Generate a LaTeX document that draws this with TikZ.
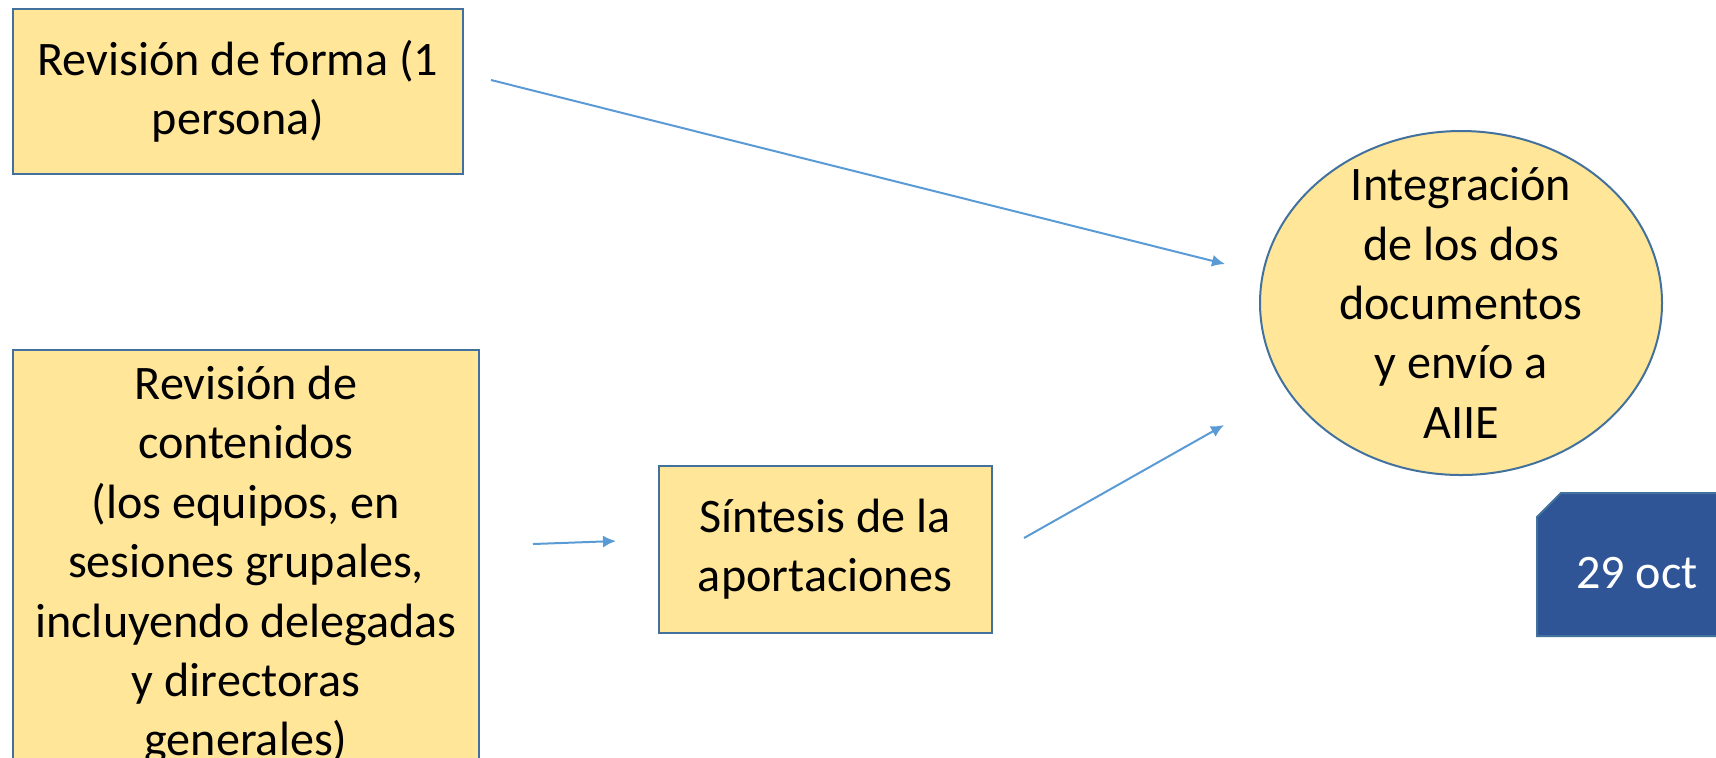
\documentclass[tikz,border=0pt]{standalone}
\usepackage{fontspec}
\setmainfont{Carlito}
\usetikzlibrary{shapes, arrows.meta, positioning}
\definecolor{amarillo}{HTML}{FFE699}
\definecolor{bordeazul}{HTML}{41719C}
\definecolor{azulflecha}{HTML}{5B9BD5}
\definecolor{azuloscuro}{HTML}{2F5597}
\newcommand{\texto}{\fontsize{13.7}{16.9}\selectfont}
\tikzset{
	caja/.style={draw=bordeazul, fill=amarillo, line width=0.2mm, align=center, font=\texto, inner sep=0pt},
	flecha/.style={-{Latex[length=1.3mm,width=1.2mm]}, draw=azulflecha, line width=0.2mm}
}

\begin{document}
\begin{tikzpicture}[x=0.1mm,y=-0.1mm]
	  \clip (0,0) rectangle (1716,757);
	  \node at (238,91) (forma) [caja,minimum width=45mm,minimum height=16.5mm]{Revisión de forma (1\\persona)};
	  \node at (246,565) (contenidos) [caja,minimum width=46.6mm,minimum height=43mm]{Revisión de\\contenidos\\(los equipos, en\\sesiones grupales,\\incluyendo delegadas\\y directoras\\generales)};
	  \node at (825,549) (sintesis) [caja,minimum width=33.3mm,minimum height=16.7mm]{Síntesis de la\\aportaciones};
	  \node at (1461,303) (integ) [caja,ellipse,minimum width=40.2mm,minimum height=34.4mm]{};
	  \node at (integ.center) (integtxt) [align=center,font=\texto]{Integración\\de los dos\\documentos\\y envío a\\AIIE};
	  % fecha
	  \filldraw[fill=azuloscuro,draw=bordeazul,line width=0.2mm] (1537,517) -- (1561,493) -- (1720,493) -- (1720,636) -- (1537,636) -- cycle;
	  \node at (1637,573) (fecha) [font=\texto,text=white]{29 oct};
	  \coordinate (a1) at (491,80);
	  \coordinate (b1) at (1225,264);
	  \coordinate (a2) at (533,544);
	  \coordinate (b2) at (616,541);
	  \coordinate (a3) at (1024,538);
	  \coordinate (b3) at (1224,425);
	  \draw[flecha](a1) -- (b1);
	  \draw[flecha](a2) -- (b2);
	  \draw[flecha](a3) -- (b3);
	\end{tikzpicture}
\end{document}
